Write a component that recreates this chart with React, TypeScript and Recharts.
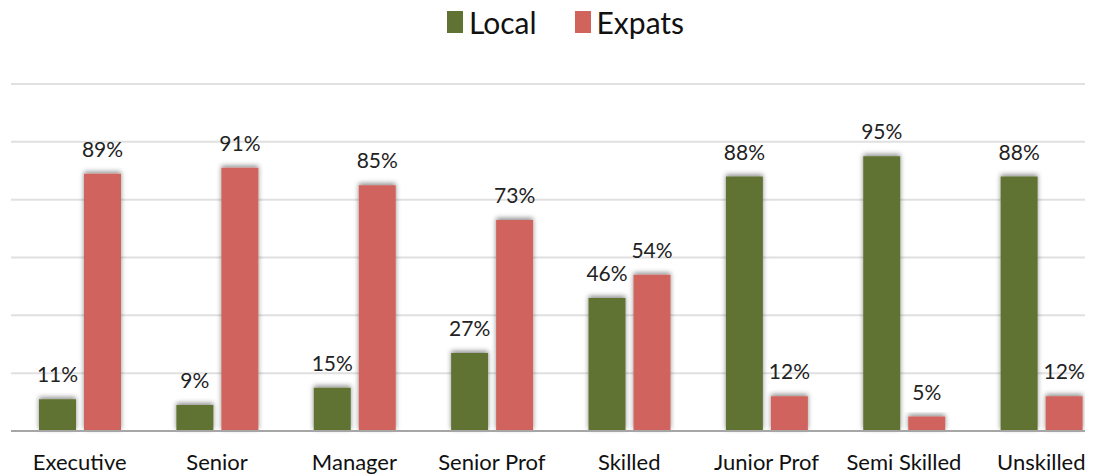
import React from "react";
import { BarChart, Bar, XAxis, YAxis, CartesianGrid, Legend, LabelList } from "recharts";

const categories = ["Executive", "Senior", "Manager", "Senior Prof", "Skilled", "Junior Prof", "Semi Skilled", "Unskilled"];
const localValues = [11, 9, 15, 27, 46, 88, 95, 88];
const expatValues = [89, 91, 85, 73, 54, 12, 5, 12];
const yTicks = [0, 20, 40, 60, 80, 100, 120];

const GREEN = "#617333";
const RED = "#d0645d";
const FONT = "Lato, 'Open Sans', sans-serif";

const data = categories.map((name, i) => ({
  name,
  local: localValues[i],
  expats: expatValues[i],
}));

const LegendContent = () => (
  <div
    style={{
      display: "flex",
      justifyContent: "center",
      alignItems: "center",
      fontFamily: FONT,
      fontSize: 30,
      color: "#111",
      lineHeight: "38px",
      paddingLeft: 10,
    }}
  >
    <span style={{ display: "inline-block", width: 16, height: 22, background: GREEN, marginRight: 6 }} />
    <span style={{ marginRight: 38 }}>Local</span>
    <span style={{ display: "inline-block", width: 16, height: 22, background: RED, marginRight: 6 }} />
    <span>Expats</span>
  </div>
);

export default function App() {
  return (
    <div style={{ width: 1085, height: 473, marginTop: -5, overflow: "hidden" }}>
      <BarChart
        width={1102}
        height={473}
        data={data}
        margin={{ top: 0, right: 0, left: 3, bottom: 0 }}
        barSize={37}
        barGap={8}
      >
        <defs>
          <filter id="barShadow" x="-30%" y="-30%" width="160%" height="160%">
            <feDropShadow dx="0" dy="-2" stdDeviation="2.5" floodColor="#000" floodOpacity="0.45" />
          </filter>
        </defs>
        <CartesianGrid vertical={false} stroke="#e0e0e0" strokeWidth={2} />
        <XAxis
          dataKey="name"
          tickLine={false}
          tickSize={0}
          tickMargin={23}
          height={45}
          axisLine={{ stroke: "#a6a6a6", strokeWidth: 2 }}
          tick={{ fill: "#111", fontSize: 22, fontFamily: FONT }}
          interval={0}
        />
        <YAxis hide domain={[0, 120]} ticks={yTicks} />
        <Legend verticalAlign="top" align="center" height={81} content={<LegendContent />} />
        <Bar dataKey="local" fill={GREEN} isAnimationActive={false} filter="url(#barShadow)">
          <LabelList
            dataKey="local"
            position="top"
            offset={17}
            formatter={(v: any) => `${v}%`}
            style={{ fill: "#222", fontSize: 21, fontFamily: FONT }}
          />
        </Bar>
        <Bar dataKey="expats" fill={RED} isAnimationActive={false} filter="url(#barShadow)">
          <LabelList
            dataKey="expats"
            position="top"
            offset={17}
            formatter={(v: any) => `${v}%`}
            style={{ fill: "#222", fontSize: 21, fontFamily: FONT }}
          />
        </Bar>
      </BarChart>
    </div>
  );
}
